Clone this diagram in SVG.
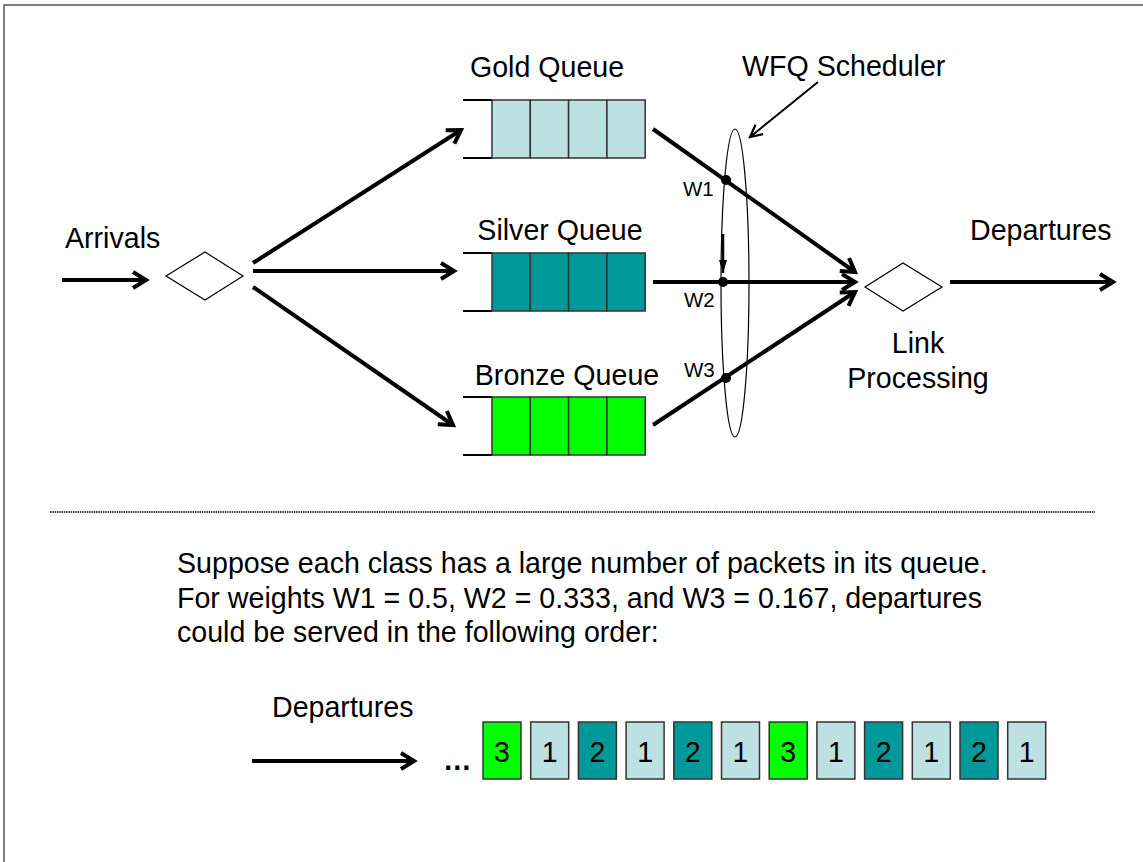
<svg xmlns="http://www.w3.org/2000/svg" width="1143" height="862" viewBox="0 0 1143 862">
<style>
text{font-family:"Liberation Sans",Arial,sans-serif;fill:#000}
.lbl{font-size:28.6px}
.w{font-size:20.5px}
.thick{stroke:#000;stroke-width:4;fill:none}
.cell{stroke:#333;stroke-width:1.5}
.g{fill:#BDE0E3}.s{fill:#009999}.b{fill:#00FF00}
.pk{stroke:#333;stroke-width:1.5}
</style>
<defs>
<marker id="ah" markerUnits="userSpaceOnUse" orient="auto" overflow="visible" markerWidth="1" markerHeight="1">
<path d="M-13,-8 L0,0 L-13,8" fill="none" stroke="#000" stroke-width="4"/>
</marker>
<marker id="ahThin" markerUnits="userSpaceOnUse" orient="auto" overflow="visible" markerWidth="1" markerHeight="1">
<path d="M-12,-6 L0,0 L-12,6" fill="none" stroke="#000" stroke-width="2.2"/>
</marker>
<marker id="ahFill" markerUnits="userSpaceOnUse" orient="auto" overflow="visible" markerWidth="1" markerHeight="1">
<path d="M-13,-4 L0,0 L-13,4 Z" fill="#000"/>
</marker>
</defs>
<rect width="1143" height="862" fill="#fff"/>
<path d="M4,862 V5 H1143" fill="none" stroke="#555" stroke-width="1.5"/>

<g id="arrivals">
<text class="lbl" x="65" y="248">Arrivals</text>
</g>
<g id="classifier">
<polygon points="166,276 205,252 243,276 205,300" fill="#fff" stroke="#000" stroke-width="1.2"/>
</g>
<g id="gold-queue">
<text class="lbl" x="547" y="77" text-anchor="middle">Gold Queue</text>
<path d="M463,100 H492 M463,158 H492" stroke="#000" stroke-width="2"/>
<rect class="cell g" x="492" y="100" width="38.3" height="58"/>
<rect class="cell g" x="530.3" y="100" width="38.3" height="58"/>
<rect class="cell g" x="568.6" y="100" width="38.3" height="58"/>
<rect class="cell g" x="606.9" y="100" width="38.3" height="58"/>
</g>
<g id="silver-queue">
<text class="lbl" x="560" y="240" text-anchor="middle">Silver Queue</text>
<path d="M463,253 H492 M463,311 H492" stroke="#000" stroke-width="2"/>
<rect class="cell s" x="492" y="253" width="38.3" height="58"/>
<rect class="cell s" x="530.3" y="253" width="38.3" height="58"/>
<rect class="cell s" x="568.6" y="253" width="38.3" height="58"/>
<rect class="cell s" x="606.9" y="253" width="38.3" height="58"/>
</g>
<g id="bronze-queue">
<text class="lbl" x="567" y="385" text-anchor="middle">Bronze Queue</text>
<path d="M463,397 H492 M463,455 H492" stroke="#000" stroke-width="2"/>
<rect class="cell b" x="492" y="397" width="38.3" height="58"/>
<rect class="cell b" x="530.3" y="397" width="38.3" height="58"/>
<rect class="cell b" x="568.6" y="397" width="38.3" height="58"/>
<rect class="cell b" x="606.9" y="397" width="38.3" height="58"/>
</g>
<g id="scheduler">
<ellipse cx="735" cy="283" rx="14" ry="154" fill="none" stroke="#000" stroke-width="1.2"/>
<text class="lbl" x="742" y="76">WFQ Scheduler</text>
<text class="w" x="683" y="196">W1</text>
<text class="w" x="684" y="307">W2</text>
<text class="w" x="684" y="377">W3</text>
</g>
<g id="link">
<polygon points="865,287 903,263 942,287 903,311" fill="#fff" stroke="#000" stroke-width="1.2"/>
<text class="lbl" x="918" y="353" text-anchor="middle">Link</text>
<text class="lbl" x="918" y="388" text-anchor="middle">Processing</text>
</g>
<g id="departures">
<text class="lbl" x="970" y="240">Departures</text>
</g>

<g id="connectors">
<line class="thick" x1="62" y1="280" x2="146" y2="280" marker-end="url(#ah)"/>
<line class="thick" x1="253" y1="263" x2="461" y2="130" marker-end="url(#ah)"/>
<line class="thick" x1="253" y1="271" x2="454" y2="271" marker-end="url(#ah)"/>
<line class="thick" x1="253" y1="287" x2="453" y2="425" marker-end="url(#ah)"/>
<line class="thick" x1="653" y1="129" x2="855" y2="272" marker-end="url(#ah)"/>
<line class="thick" x1="653" y1="282" x2="855" y2="282" marker-end="url(#ah)"/>
<line class="thick" x1="653" y1="425" x2="855" y2="292" marker-end="url(#ah)"/>
<line class="thick" x1="950" y1="282" x2="1113" y2="282" marker-end="url(#ah)"/>
<line x1="818" y1="82" x2="750" y2="137" stroke="#000" stroke-width="2" marker-end="url(#ahThin)"/>
<line x1="723" y1="234" x2="723" y2="273" stroke="#000" stroke-width="2.5" marker-end="url(#ahFill)"/>
<circle cx="726" cy="180" r="5" fill="#000"/>
<circle cx="723" cy="282" r="5" fill="#000"/>
<circle cx="726" cy="378" r="5" fill="#000"/>
<line class="thick" x1="252" y1="761" x2="414" y2="761" marker-end="url(#ah)"/>
</g>

<line x1="50" y1="512" x2="1095" y2="512" stroke="#000" stroke-width="1.5" stroke-dasharray="1.5,0.8"/>

<g id="note">
<text class="lbl" x="177" y="573">Suppose each class has a large number of packets in its queue.</text>
<text class="lbl" x="177" y="608">For weights W1 = 0.5, W2 = 0.333, and W3 = 0.167, departures</text>
<text class="lbl" x="177" y="642">could be served in the following order:</text>
</g>

<g id="order">
<text class="lbl" x="272" y="717">Departures</text>
<text x="443" y="770" style="font-size:28.6px;font-weight:bold">…</text>
<rect class="pk b" x="483" y="722" width="38" height="57"/><text class="lbl" x="502" y="762" text-anchor="middle">3</text>
<rect class="pk g" x="530.7" y="722" width="38" height="57"/><text class="lbl" x="549.7" y="762" text-anchor="middle">1</text>
<rect class="pk s" x="578.4" y="722" width="38" height="57"/><text class="lbl" x="597.4" y="762" text-anchor="middle">2</text>
<rect class="pk g" x="626.1" y="722" width="38" height="57"/><text class="lbl" x="645.1" y="762" text-anchor="middle">1</text>
<rect class="pk s" x="673.8" y="722" width="38" height="57"/><text class="lbl" x="692.8" y="762" text-anchor="middle">2</text>
<rect class="pk g" x="721.5" y="722" width="38" height="57"/><text class="lbl" x="740.5" y="762" text-anchor="middle">1</text>
<rect class="pk b" x="769.2" y="722" width="38" height="57"/><text class="lbl" x="788.2" y="762" text-anchor="middle">3</text>
<rect class="pk g" x="816.9" y="722" width="38" height="57"/><text class="lbl" x="835.9" y="762" text-anchor="middle">1</text>
<rect class="pk s" x="864.6" y="722" width="38" height="57"/><text class="lbl" x="883.6" y="762" text-anchor="middle">2</text>
<rect class="pk g" x="912.3" y="722" width="38" height="57"/><text class="lbl" x="931.3" y="762" text-anchor="middle">1</text>
<rect class="pk s" x="960" y="722" width="38" height="57"/><text class="lbl" x="979" y="762" text-anchor="middle">2</text>
<rect class="pk g" x="1007.7" y="722" width="38" height="57"/><text class="lbl" x="1026.7" y="762" text-anchor="middle">1</text>
</g>
</svg>
